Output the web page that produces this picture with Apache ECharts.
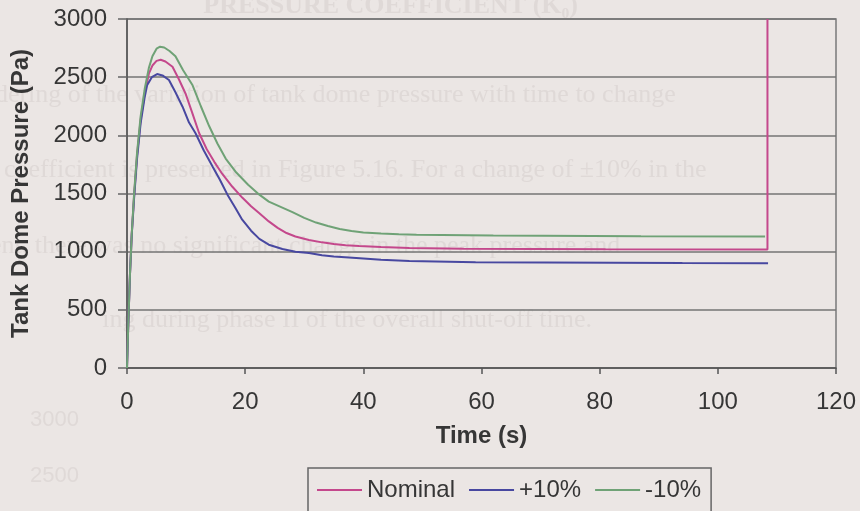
<!DOCTYPE html>
<html>
<head>
<meta charset="utf-8">
<title>Tank Dome Pressure</title>
<script src="https://cdn.jsdelivr.net/npm/echarts@6/dist/echarts.min.js"></script>
<style>
  html, body { margin: 0; padding: 0; background: #ebe6e4; }
  #chart { width: 860px; height: 511px; }
</style>
</head>
<body>
<div id="chart"></div>
<script>
// Time (s) and tank dome pressure (Pa) for each run
const tNominal = [0, 0.2, 0.5, 0.8, 1.2, 1.7, 2.3, 3.0, 3.7, 4.3, 5.0, 5.7, 6.5, 7.7, 8.8, 9.9, 11.0, 12.2, 13.5, 14.8, 16.1, 17.8, 19.5, 21.0, 22.4, 24.0, 25.5, 27.0, 28.5, 30.8, 33.0, 35.0, 37.0, 39.3, 43.0, 47.8, 57.0, 81.0, 108.4, 108.4];
const pNominal = [0, 350, 800, 1150, 1480, 1830, 2130, 2360, 2530, 2600, 2640, 2650, 2635, 2590, 2480, 2360, 2200, 2020, 1880, 1770, 1670, 1560, 1465, 1390, 1330, 1260, 1205, 1160, 1130, 1100, 1080, 1065, 1055, 1048, 1040, 1032, 1025, 1020, 1018, 3000];

const tPlus10 = [0, 0.2, 0.5, 0.8, 1.2, 1.7, 2.3, 3.0, 3.4, 4.2, 5.1, 6.0, 7.1, 8.2, 9.4, 10.5, 11.6, 13.0, 14.5, 15.7, 17.0, 18.3, 19.5, 21.0, 22.4, 24.0, 26.3, 28.5, 30.8, 33.0, 35.0, 38.8, 43.0, 47.8, 59.0, 94.0, 108.5];
const pPlus10 = [0, 350, 800, 1140, 1460, 1800, 2100, 2330, 2430, 2500, 2527, 2515, 2476, 2370, 2246, 2110, 2018, 1870, 1730, 1620, 1490, 1380, 1275, 1180, 1110, 1060, 1023, 1000, 988, 970, 958, 946, 930, 920, 908, 902, 900];

const tMinus10 = [0, 0.2, 0.5, 0.8, 1.2, 1.7, 2.3, 3.0, 3.7, 4.3, 5.0, 5.6, 6.3, 7.2, 8.2, 9.5, 11.1, 12.5, 13.9, 15.3, 16.7, 18.5, 20.5, 22.4, 24.0, 26.0, 28.0, 30.0, 32.0, 34.0, 36.0, 38.0, 40.0, 43.0, 46.0, 49.0, 62.0, 87.0, 108.0];
const pMinus10 = [0, 350, 800, 1150, 1500, 1850, 2160, 2400, 2580, 2680, 2745, 2762, 2755, 2725, 2680, 2560, 2430, 2250, 2080, 1930, 1800, 1680, 1575, 1490, 1430, 1385, 1340, 1290, 1250, 1220, 1195, 1178, 1165, 1157, 1150, 1145, 1138, 1132, 1130];

const seriesNames = ['Nominal', '+10%', '-10%'];
const seriesColors = ['#c4488c', '#4848a0', '#6fa276'];

function pairs(t, p) { return t.map((v, i) => [v, p[i]]); }

const chart = echarts.init(document.getElementById('chart'), null, { renderer: 'canvas' });

// faint show-through from the facing page
const ghostFill = 'rgba(150,132,132,0.13)';
const ghostFont = '26px "Liberation Serif", "DejaVu Serif", serif';

chart.setOption({
  backgroundColor: '#ebe6e4',
  animation: false,
  textStyle: { fontFamily: '"Liberation Sans", Arial, sans-serif', color: '#363636' },
  graphic: [
    { type: 'text', z: -10, silent: true, style: { x: 578, y: 6, text: 'PRESSURE COEFFICIENT (K\u2080)', font: 'bold 26px "Liberation Serif", serif', fill: ghostFill, textAlign: 'right', textVerticalAlign: 'middle' } },
    { type: 'text', z: -10, silent: true, style: { x: -60, y: 95, text: 'considering of the variation of tank dome pressure with time to change', font: ghostFont, fill: ghostFill, textVerticalAlign: 'middle' } },
    { type: 'text', z: -10, silent: true, style: { x: -14, y: 170, text: 'e coefficient is presented in Figure 5.16. For a change of \u00b110% in the', font: ghostFont, fill: ghostFill, textVerticalAlign: 'middle' } },
    { type: 'text', z: -10, silent: true, style: { x: -10, y: 246, text: 'ent, there was no significant change in the peak pressure and', font: ghostFont, fill: ghostFill, textVerticalAlign: 'middle' } },
    { type: 'text', z: -10, silent: true, style: { x: 592, y: 320, text: 'ing during phase II of the overall shut-off time.', font: ghostFont, fill: ghostFill, textAlign: 'right', textVerticalAlign: 'middle' } },
    { type: 'text', z: -10, silent: true, style: { x: 30, y: 420, text: '3000', font: '22px "Liberation Sans", sans-serif', fill: ghostFill, textVerticalAlign: 'middle' } },
    { type: 'text', z: -10, silent: true, style: { x: 30, y: 476, text: '2500', font: '22px "Liberation Sans", sans-serif', fill: ghostFill, textVerticalAlign: 'middle' } }
  ],
  grid: {
    left: 127, right: 24, top: 19, bottom: 143,
    show: true, borderColor: '#7a7a7a', borderWidth: 1.5, backgroundColor: 'transparent'
  },
  legend: {
    data: seriesNames.map(n => ({ name: n, icon: 'rect' })),
    left: 308, top: 468,
    orient: 'horizontal',
    padding: [10, 10, 12, 9],
    itemGap: 14,
    itemWidth: 45,
    itemHeight: 2,
    borderColor: '#666',
    borderWidth: 1.5,
    backgroundColor: 'transparent',
    textStyle: { fontSize: 24, color: '#363636', fontFamily: '"Liberation Sans", Arial, sans-serif' }
  },
  xAxis: {
    type: 'value', min: 0, max: 120, interval: 20,
    name: 'Time (s)', nameLocation: 'middle', nameGap: 56,
    nameTextStyle: { fontSize: 24, fontWeight: 'bold', color: '#363636' },
    axisLine: { show: true, onZero: false, lineStyle: { color: '#555', width: 1.5 } },
    axisTick: { show: true, length: 6, lineStyle: { color: '#555', width: 1.5 } },
    axisLabel: { fontSize: 24, margin: 22, color: '#363636' },
    splitLine: { show: false }
  },
  yAxis: {
    type: 'value', min: 0, max: 3000, interval: 500,
    name: 'Tank Dome Pressure (Pa)', nameLocation: 'middle', nameGap: 94,
    nameTextStyle: { fontSize: 24, fontWeight: 'bold', color: '#363636' },
    axisLine: { show: true, lineStyle: { color: '#555', width: 1.5 } },
    axisTick: { show: true, length: 9, lineStyle: { color: '#666', width: 1.5 } },
    axisLabel: { fontSize: 24, margin: 20, color: '#363636', formatter: v => String(v) },
    splitLine: { show: true, lineStyle: { color: '#747474', width: 1.5 } }
  },
  series: [
    { name: seriesNames[0], type: 'line', data: pairs(tNominal, pNominal), showSymbol: false, symbol: 'none', lineStyle: { color: seriesColors[0], width: 2 }, itemStyle: { color: seriesColors[0] } },
    { name: seriesNames[1], type: 'line', data: pairs(tPlus10, pPlus10), showSymbol: false, symbol: 'none', lineStyle: { color: seriesColors[1], width: 2 }, itemStyle: { color: seriesColors[1] } },
    { name: seriesNames[2], type: 'line', data: pairs(tMinus10, pMinus10), showSymbol: false, symbol: 'none', lineStyle: { color: seriesColors[2], width: 2 }, itemStyle: { color: seriesColors[2] } }
  ]
});
</script>
</body>
</html>
